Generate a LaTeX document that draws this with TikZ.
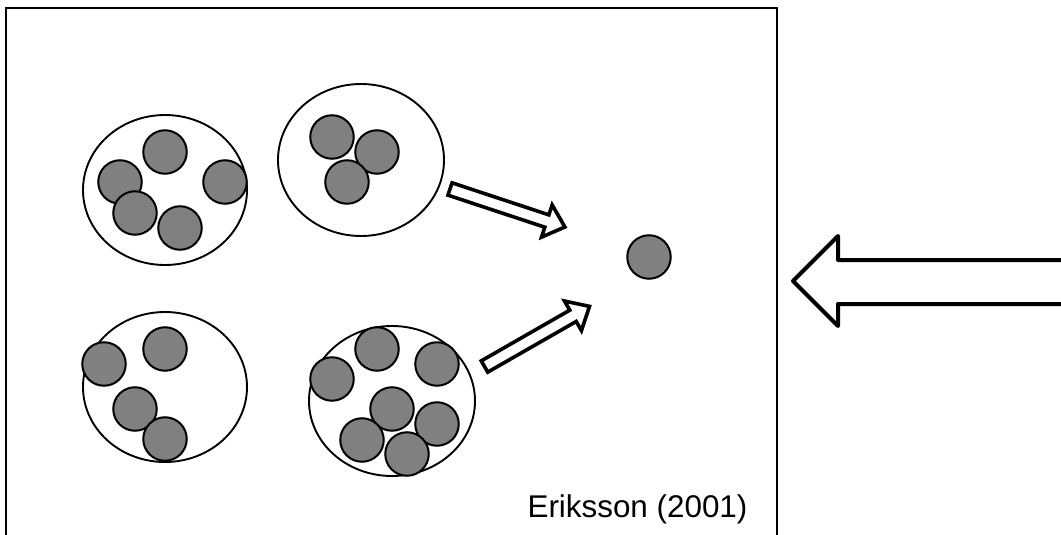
\documentclass[tikz,border=0pt]{standalone}
\usepackage{fontspec}
\setmainfont{Liberation Sans}
\begin{document}
\begin{tikzpicture}[x=1pt,y=-1pt,
  ball/.style={circle,draw=black,fill=ballgray,line width=2pt,minimum size=43.5pt,inner sep=0pt,outer sep=0pt},
  group/.style={draw=black,line width=1.9pt},
  thinarrow/.style={draw=black,fill=white,line width=3.6pt,line join=miter},
  bigarrow/.style={draw=black,fill=white,line width=4pt,line join=round}]
\definecolor{ballgray}{RGB}{128,128,128}
\useasboundingbox (0,0) rectangle (1061,535);
\clip (0,0) rectangle (1061,535);
% frame
\draw[line width=1.5pt] (6,545) -- (6,8) -- (777,8) -- (777,545);
% group 1
\draw[group] (165,190) ellipse [x radius=82, y radius=75];
\node[ball] (a1) at (165,152) {};
\node[ball] (a2) at (120,182) {};
\node[ball] (a3) at (225,182) {};
\node[ball] (a4) at (135,213) {};
\node[ball] (a5) at (180,228) {};
% group 2
\draw[group] (361,160) ellipse [x radius=83, y radius=76];
\node[ball] (b1) at (332,137) {};
\node[ball] (b2) at (377,152) {};
\node[ball] (b3) at (347,182) {};
% group 3
\draw[group] (165,387) ellipse [x radius=82, y radius=75];
\node[ball] (c1) at (104,364) {};
\node[ball] (c2) at (165,349) {};
\node[ball] (c3) at (135,409) {};
\node[ball] (c4) at (165,439) {};
% group 4
\draw[group] (392,401) ellipse [x radius=83, y radius=75];
\node[ball] (d1) at (332,379) {};
\node[ball] (d2) at (377,349) {};
\node[ball] (d3) at (437,364) {};
\node[ball] (d4) at (392,409) {};
\node[ball] (d5) at (437,424) {};
\node[ball] (d6) at (362,440) {};
\node[ball] (d7) at (407,454) {};
% single
\node[ball] (s) at (649,257) {};
% thin arrows
\begin{scope}[shift={(450,189)},rotate=-18.3]
\draw[thinarrow] (0,-6.5) -- (102,-6.5) -- (102,-17) -- (121,0) -- (102,17) -- (102,6.5) -- (0,6.5) -- cycle;
\end{scope}
\begin{scope}[shift={(484.5,366.5)},rotate=29.8]
\draw[thinarrow] (0,-6.5) -- (102,-6.5) -- (102,-17) -- (121,0) -- (102,17) -- (102,6.5) -- (0,6.5) -- cycle;
\end{scope}
% big arrow
\draw[bigarrow] (1070,260) -- (838,260) -- (838,236) -- (793,281) -- (838,326) -- (838,304) -- (1070,304);
% citation
\node[anchor=base,font=\fontsize{31.4}{36}\selectfont,inner sep=0pt] (cite) at (637.5,517) {Eriksson (2001)};
\end{tikzpicture}
\end{document}
